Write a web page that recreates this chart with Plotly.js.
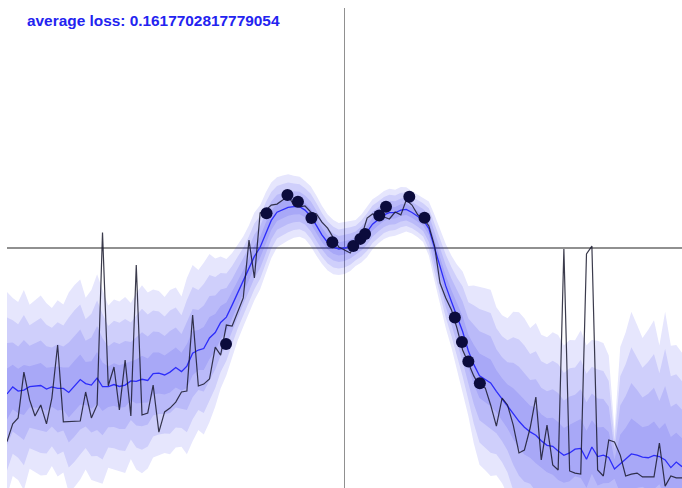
<!DOCTYPE html>
<html>
<head>
<meta charset="utf-8">
<script src="https://cdn.plot.ly/plotly-3.0.1.min.js"></script>
<style>
  html, body { margin: 0; padding: 0; background: #ffffff; }
  #chart { width: 682px; height: 488px; }
</style>
</head>
<body>
<div id="chart"></div>
<script>
// ---- data ----
const xs = [
  -1, -0.983, -0.967, -0.95, -0.933, -0.917, -0.9, -0.883, -0.867, -0.85,
  -0.833, -0.817, -0.8, -0.783, -0.767, -0.75, -0.733, -0.717, -0.7, -0.683,
  -0.667, -0.65, -0.633, -0.617, -0.6, -0.583, -0.567, -0.55, -0.533, -0.517,
  -0.5, -0.483, -0.467, -0.45, -0.433, -0.417, -0.4, -0.383, -0.367, -0.35,
  -0.333, -0.317, -0.3, -0.283, -0.267, -0.25, -0.233, -0.217, -0.2, -0.183,
  -0.167, -0.15, -0.133, -0.117, -0.1, -0.083, -0.067, -0.05, -0.033, -0.017,
  0,
  0.017, 0.033, 0.05, 0.067, 0.083, 0.1, 0.117, 0.133, 0.15, 0.167,
  0.183, 0.2, 0.217, 0.233, 0.25, 0.267, 0.283, 0.3, 0.317, 0.333,
  0.35, 0.367, 0.383, 0.4, 0.417, 0.433, 0.45, 0.467, 0.483, 0.5,
  0.517, 0.533, 0.55, 0.567, 0.583, 0.6, 0.617, 0.633, 0.65, 0.667,
  0.683, 0.7, 0.717, 0.733, 0.75, 0.767, 0.783, 0.8, 0.817, 0.833,
  0.85, 0.867, 0.883, 0.9, 0.917, 0.933, 0.95, 0.967, 0.983, 1
];

// single sampled prediction (black)
const sample = [
  -0.807, -0.733, -0.708, -0.517, -0.633, -0.700, -0.654, -0.733, -0.625, -0.404,
  -0.724, -0.724, -0.724, -0.721, -0.600, -0.708, -0.654, 0.064, -0.574, -0.496,
  -0.675, -0.467, -0.700, -0.071, -0.696, -0.688, -0.571, -0.767, -0.683, -0.667,
  -0.642, -0.600, -0.596, -0.279, -0.575, -0.567, -0.546, -0.413, -0.446, -0.321,
  -0.325, -0.267, -0.208, 0.033, -0.125, 0.146, 0.158, 0.179, 0.183, 0.200,
  0.217, 0.179, 0.171, 0.175, 0.150, 0.142, 0.108, 0.083, 0.042, 0.004,
  -0.008,
  -0.021, 0.021, 0.046, 0.125, 0.142, 0.133, 0.129, 0.121, 0.150, 0.138,
  0.200, 0.179, 0.138, 0.125, 0.092, 0.008, -0.146, -0.208, -0.258, -0.333,
  -0.425, -0.479, -0.533, -0.575, -0.583, -0.654, -0.742, -0.625, -0.654, -0.738,
  -0.854, -0.842, -0.750, -0.621, -0.883, -0.738, -0.904, -0.925, -0.004, -0.929,
  -0.938, -0.942, -0.025, 0.008, -0.925, -0.950, -0.800, -0.808, -0.863, -0.950,
  -0.942, -0.938, -0.954, -0.954, -0.954, -0.813, -0.992, -0.950, -0.958, -0.958
];

// mean prediction (blue)
const mean = [
  -0.608, -0.579, -0.596, -0.592, -0.578, -0.575, -0.573, -0.588, -0.579, -0.585,
  -0.585, -0.602, -0.575, -0.548, -0.565, -0.571, -0.542, -0.578, -0.578, -0.569,
  -0.577, -0.571, -0.554, -0.556, -0.547, -0.552, -0.523, -0.521, -0.529, -0.517,
  -0.498, -0.515, -0.492, -0.438, -0.425, -0.419, -0.375, -0.352, -0.310, -0.288,
  -0.238, -0.188, -0.140, -0.088, -0.035, 0.003, 0.065, 0.115, 0.149, 0.160,
  0.169, 0.172, 0.172, 0.158, 0.132, 0.093, 0.055, 0.023, 0.004, -0.004,
  0.000,
  0.008, 0.021, 0.040, 0.067, 0.099, 0.119, 0.138, 0.147, 0.147, 0.158,
  0.161, 0.148, 0.133, 0.117, 0.081, -0.001, -0.081, -0.158, -0.224, -0.286,
  -0.348, -0.429, -0.485, -0.532, -0.547, -0.562, -0.597, -0.630, -0.660, -0.691,
  -0.722, -0.747, -0.766, -0.780, -0.803, -0.822, -0.826, -0.846, -0.864, -0.854,
  -0.838, -0.835, -0.880, -0.829, -0.869, -0.863, -0.873, -0.921, -0.900, -0.881,
  -0.858, -0.863, -0.871, -0.874, -0.864, -0.869, -0.883, -0.915, -0.892, -0.911
];

// outer uncertainty half-width
const spread = [
  0.425, 0.371, 0.371, 0.417, 0.342, 0.358, 0.375, 0.358, 0.329, 0.367,
  0.350, 0.417, 0.421, 0.417, 0.358, 0.396, 0.433, 0.404, 0.338, 0.354,
  0.354, 0.367, 0.325, 0.367, 0.392, 0.367, 0.350, 0.342, 0.325, 0.342,
  0.333, 0.313, 0.367, 0.367, 0.333, 0.358, 0.350, 0.308, 0.275, 0.242,
  0.217, 0.200, 0.188, 0.183, 0.183, 0.175, 0.167, 0.158, 0.146, 0.142,
  0.138, 0.129, 0.125, 0.121, 0.125, 0.125, 0.121, 0.117, 0.113, 0.108,
  0.108,
  0.104, 0.096, 0.100, 0.104, 0.104, 0.100, 0.100, 0.100, 0.096, 0.096,
  0.092, 0.088, 0.088, 0.092, 0.113, 0.138, 0.158, 0.175, 0.192, 0.217,
  0.250, 0.271, 0.329, 0.371, 0.379, 0.388, 0.350, 0.350, 0.367, 0.425,
  0.454, 0.454, 0.433, 0.467, 0.442, 0.450, 0.475, 0.483, 0.458, 0.471,
  0.454, 0.492, 0.475, 0.446, 0.483, 0.467, 0.425, 0.160, 0.488, 0.529,
  0.592, 0.542, 0.496, 0.533, 0.563, 0.463, 0.617, 0.508, 0.488, 0.475
];

// training points
const trainX = [-0.351, -0.231, -0.169, -0.138, -0.098, -0.036, 0.026, 0.047, 0.061,
                0.103, 0.123, 0.192, 0.237, 0.327, 0.348, 0.367, 0.401];
const trainY = [-0.400, 0.145, 0.221, 0.193, 0.125, 0.024, 0.008, 0.038, 0.058,
                0.135, 0.172, 0.214, 0.126, -0.290, -0.392, -0.473, -0.564];

const bandLevels = [1, 0.75, 0.5, 0.25];
const titleText = 'average loss: 0.1617702817779054';

// ---- traces ----
const traces = [];
bandLevels.forEach(function (k) {
  const lo = mean.map(function (m, i) { return m - k * spread[i]; });
  const hi = mean.map(function (m, i) { return m + k * spread[i]; });
  traces.push({ x: xs, y: lo, type: 'scatter', mode: 'lines',
    line: { width: 0, color: 'rgba(0,0,0,0)' }, hoverinfo: 'skip' });
  traces.push({ x: xs, y: hi, type: 'scatter', mode: 'lines', fill: 'tonexty',
    fillcolor: 'rgba(10,10,240,0.1)',
    line: { width: 0, color: 'rgba(0,0,0,0)' }, hoverinfo: 'skip' });
});
traces.push({ x: xs, y: mean, type: 'scatter', mode: 'lines',
  line: { color: 'rgb(45,45,250)', width: 1.3 } });
traces.push({ x: xs, y: sample, type: 'scatter', mode: 'lines',
  line: { color: 'rgba(25,25,45,0.85)', width: 1.2 } });
traces.push({ x: trainX, y: trainY, type: 'scatter', mode: 'markers',
  marker: { color: '#0b0b3c', size: 12 } });

const axisCommon = {
  showgrid: false, showticklabels: false, ticks: '', showline: false,
  zeroline: true, zerolinecolor: '#909090', zerolinewidth: 1.8, fixedrange: true
};

const layout = {
  width: 682, height: 488,
  margin: { l: 7, r: 0, t: 8, b: 0, pad: 0 },
  paper_bgcolor: '#ffffff', plot_bgcolor: '#ffffff',
  showlegend: false, hovermode: false,
  title: {
    text: '<b>' + titleText + '</b>',
    font: { family: 'Liberation Sans, Arial, sans-serif', size: 15.4, color: 'rgb(35,35,240)' },
    x: 27 / 682, xanchor: 'left', xref: 'container',
    y: 1 - 21 / 488, yanchor: 'middle', yref: 'container'
  },
  xaxis: Object.assign({ range: [-1, 1] }, axisCommon),
  yaxis: Object.assign({ range: [-1, 1] }, axisCommon)
};

Plotly.newPlot('chart', traces, layout, { displayModeBar: false, staticPlot: true });
</script>
</body>
</html>
